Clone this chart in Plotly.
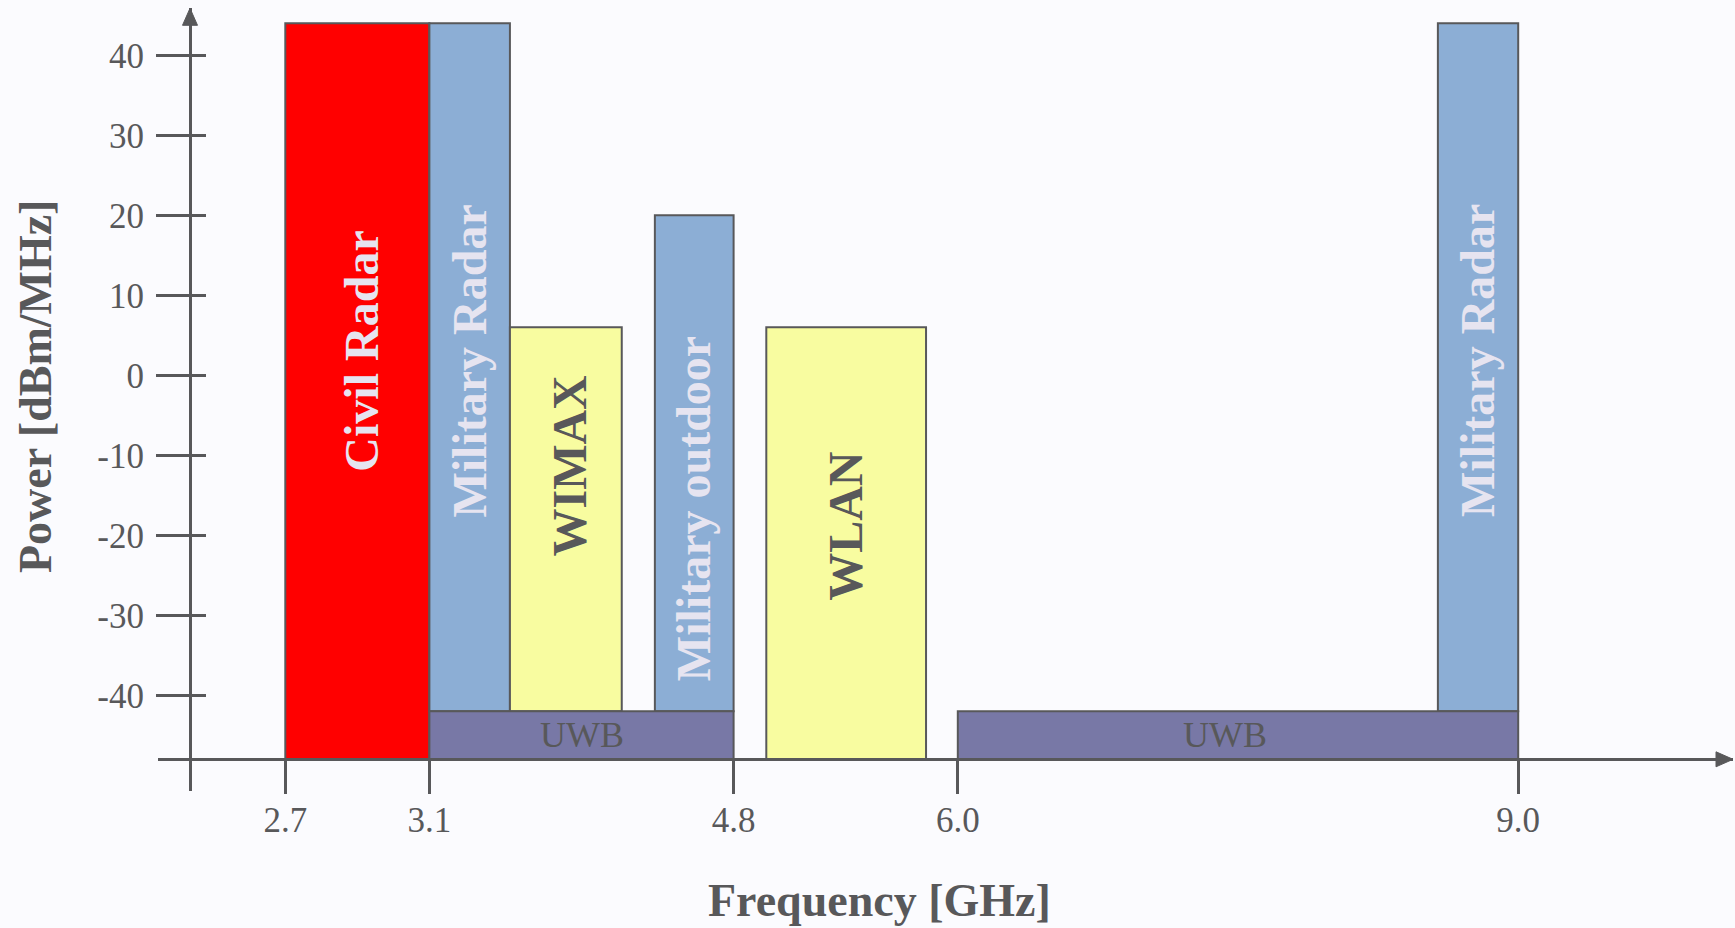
import numpy as np
import plotly.graph_objects as go

# ---------------- data ----------------
freq_ticks = [2.7, 3.1, 4.8, 6.0, 9.0]
freq_tick_labels = ["2.7", "3.1", "4.8", "6.0", "9.0"]
power_ticks = [-40, -30, -20, -10, 0, 10, 20, 30, 40]
power_tick_labels = ["-40", "-30", "-20", "-10", "0", "10", "20", "30", "40"]

band_names = ["Civil Radar", "Military Radar", "WIMAX", "Military outdoor",
              "WLAN", "Military Radar", "UWB", "UWB"]
band_f_lo = [2.7, 3.1, 3.55, 4.36, 4.975, 8.57, 3.1, 6.0]     # GHz
band_f_hi = [3.1, 3.55, 4.175, 4.8, 5.83, 9.0, 4.8, 9.0]      # GHz
band_p_lo = [-48, -42, -42, -42, -48, -42, -48, -48]          # dBm/MHz
band_p_hi = [44, 44, 6, 20, 6, 44, -42, -42]                  # dBm/MHz

# ---------------- styles / layout ----------------
W, H = 1735, 928
BG = "#FBFBFE"
INK = "#58585A"
FONT = "Liberation Serif"
RED, BLUE, YEL, PUR = "#FF0000", "#8CAED5", "#F8FCA0", "#7878A6"
LIGHT = "#E6E4F0"
band_colors = [RED, BLUE, YEL, BLUE, YEL, BLUE, PUR, PUR]
label_colors = [LIGHT, LIGHT, INK, LIGHT, INK, LIGHT, INK, INK]
label_bold = [True, True, True, True, True, True, False, False]
label_size = [48, 48, 48, 48, 48, 48, 36, 36]
label_angle = [-90, -90, -90, -90, -90, -90, 0, 0]
label_pos_y = [3.0, 1.8, -11.3, -16.7, -18.8, 1.8, -45, -45]
label_shift_x = [4, 0, 4, 0, 0, 0, 0, -13]

# schematic (non-linear) frequency axis: tick frequencies -> screen position
tick_screen = [285.3, 429.4, 733.6, 957.8, 1518.2]


def fx(f):
    return np.interp(f, freq_ticks, tick_screen)


# vertical scale
Y0_PX, PX_PER_UNIT = 375.3, 8.0


def v_of(px):
    return (Y0_PX - px) / PX_PER_UNIT


Y_AXIS_PX = 190.0
X_AXIS_VAL = -48.0
Y_TOP_PX, Y_BOT_PX = 8.3, 791.0
X_LEFT_PX, X_RIGHT_PX = 158.0, 1733.0

lo = fx(band_f_lo)
hi = fx(band_f_hi)
centers = (lo + hi) / 2
widths = hi - lo
bases = np.array(band_p_lo, dtype=float)
heights = np.array(band_p_hi, dtype=float) - bases

fig = go.Figure()
fig.add_trace(go.Bar(
    x=centers, width=widths, base=bases, y=heights,
    marker=dict(color=band_colors, line=dict(color=INK, width=2)),
    hoverinfo="text", hovertext=band_names, showlegend=False,
))
# empty trace to carry the inner tick marks axis
fig.add_trace(go.Scatter(x=[], y=[], yaxis="y2", showlegend=False))

for i, name in enumerate(band_names):
    fig.add_annotation(
        x=centers[i], y=label_pos_y[i], xref="x", yref="y",
        xanchor="center", yanchor="middle", xshift=label_shift_x[i],
        text=name, showarrow=False, textangle=label_angle[i],
        font=dict(family=FONT, size=label_size[i], color=label_colors[i],
                  weight="bold" if label_bold[i] else "normal"),
    )

yr = [v_of(Y_BOT_PX), v_of(Y_TOP_PX)]
ydom = [(H - Y_BOT_PX) / H, (H - Y_TOP_PX) / H]
xpos_axis = Y_AXIS_PX / W
ypos_axis = (H - (Y0_PX - X_AXIS_VAL * PX_PER_UNIT)) / H

tickfont = dict(family=FONT, size=35, color=INK)
fig.update_layout(
    width=W, height=H, template="none",
    margin=dict(l=0, r=0, t=0, b=0, pad=0),
    paper_bgcolor=BG, plot_bgcolor=BG,
    barmode="overlay", showlegend=False,
    xaxis=dict(
        range=[X_LEFT_PX, X_RIGHT_PX], domain=[X_LEFT_PX / W, X_RIGHT_PX / W],
        anchor="free", position=ypos_axis,
        showline=True, linecolor=INK, linewidth=3,
        ticks="outside", ticklen=33, tickwidth=3, tickcolor=INK,
        tickvals=fx(freq_ticks), ticktext=freq_tick_labels, tickfont=tickfont,
        ticklabelstandoff=-4,
        showgrid=False, zeroline=False, automargin=False,
    ),
    yaxis=dict(
        range=yr, domain=ydom, anchor="free", position=xpos_axis, side="left",
        showline=True, linecolor=INK, linewidth=3,
        ticks="outside", ticklen=33, tickwidth=3, tickcolor=INK,
        tickvals=power_ticks, ticktext=power_tick_labels, tickfont=tickfont,
        ticklabelstandoff=5,
        showgrid=False, zeroline=False, automargin=False,
    ),
    yaxis2=dict(
        range=yr, overlaying="y", anchor="free", position=xpos_axis, side="right",
        showline=False, ticks="outside", ticklen=15, tickwidth=3, tickcolor=INK,
        tickvals=power_ticks, showticklabels=False,
        showgrid=False, zeroline=False, automargin=False,
    ),
)

# arrow heads
yb = v_of(Y_TOP_PX + 17)
fig.add_shape(type="path", xref="x", yref="y",
              path=f"M {Y_AXIS_PX-7.5},{yb} L {Y_AXIS_PX},{v_of(Y_TOP_PX)} L {Y_AXIS_PX+7.5},{yb} Z",
              fillcolor=INK, line=dict(color=INK, width=1))
dv = 7.5 / PX_PER_UNIT
fig.add_shape(type="path", xref="x", yref="y",
              path=f"M {X_RIGHT_PX-17},{X_AXIS_VAL+dv} L {X_RIGHT_PX},{X_AXIS_VAL} L {X_RIGHT_PX-17},{X_AXIS_VAL-dv} Z",
              fillcolor=INK, line=dict(color=INK, width=1))

# axis titles
fig.add_annotation(x=879 / W, y=(H - 900) / H, xref="paper", yref="paper",
                   xanchor="center", yanchor="middle",
                   text="Frequency [GHz]", showarrow=False,
                   font=dict(family=FONT, size=46, color=INK, weight="bold"))
fig.add_annotation(x=35 / W, y=(H - 387) / H, xref="paper", yref="paper",
                   xanchor="center", yanchor="middle",
                   text="Power [dBm/MHz]", showarrow=False, textangle=-90,
                   font=dict(family=FONT, size=46, color=INK, weight="bold"))

fig.write_html("out.html", config={"displayModeBar": False},
               post_script="document.body.style.margin='0';document.body.style.overflow='hidden';")
